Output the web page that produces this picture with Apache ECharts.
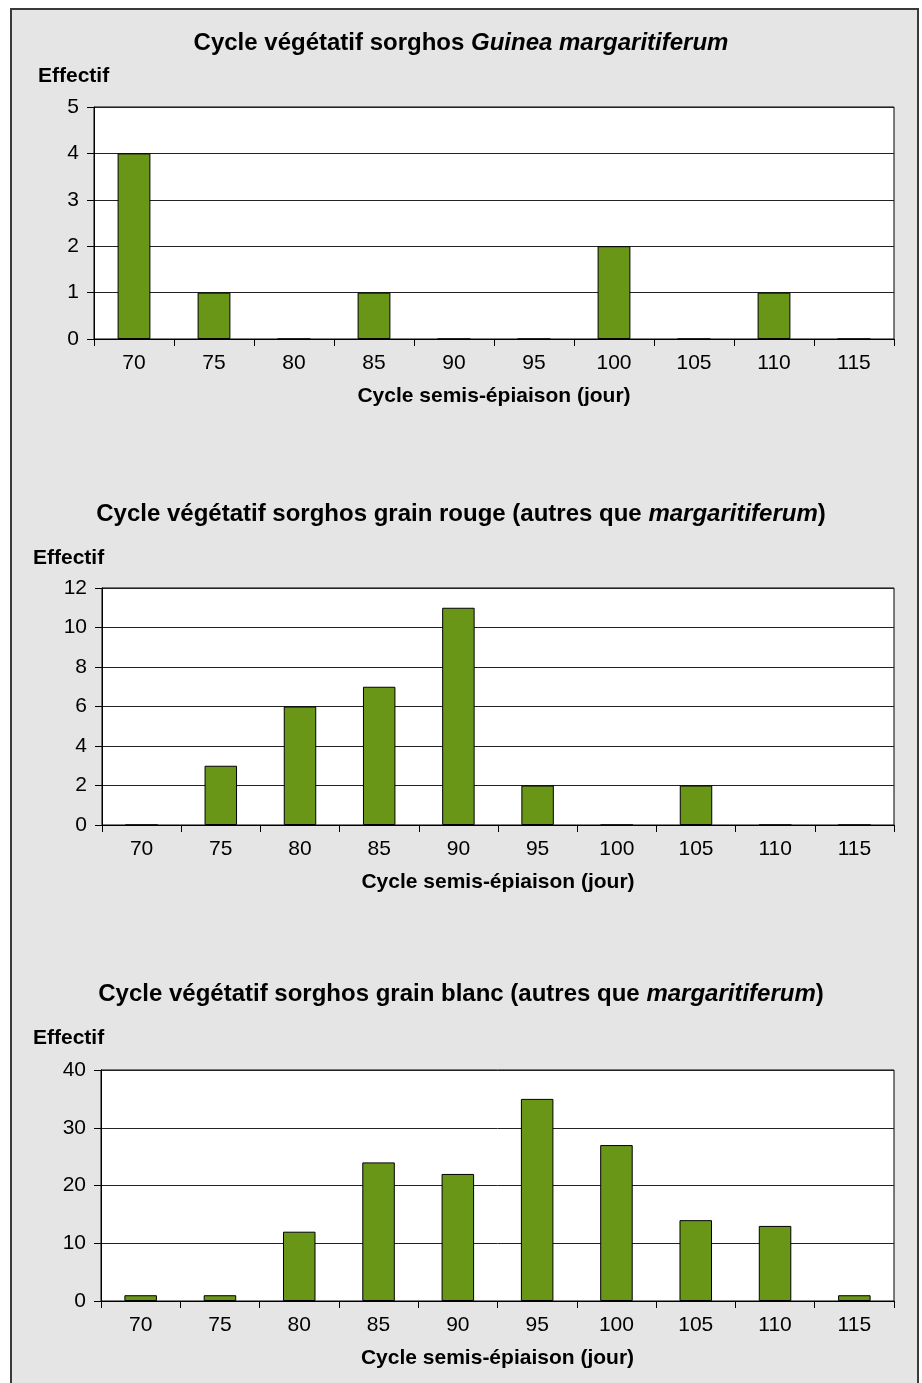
<!DOCTYPE html>
<html>
<head>
<meta charset="utf-8">
<title>Cycle végétatif sorghos</title>
<script src="https://cdn.jsdelivr.net/npm/echarts@6/dist/echarts.min.js"></script>
<style>
  html, body { margin: 0; padding: 0; background: #fff; }
  #frame {
    position: absolute; left: 10px; top: 8px; width: 905px; height: 1400px;
    background: #e5e5e5; border: 2px solid #3a3a3a; border-bottom: none;
  }
  #chart { position: absolute; left: 0; top: 0; width: 922px; height: 1383px; }
</style>
</head>
<body>
<div id="frame"></div>
<div id="chart"></div>
<script>
// catégories (cycle semis-épiaison en jours)
const categories = ['70', '75', '80', '85', '90', '95', '100', '105', '110', '115']

// effectifs par type de sorgho
const guineaMargaritiferum = [4, 1, 0, 1, 0, 0, 2, 0, 1, 0]
const grainRouge = [0, 3, 6, 7, 11, 2, 0, 2, 0, 0]
const grainBlanc = [1, 1, 12, 24, 22, 35, 27, 14, 13, 1]

// graduations des axes y
const yMax = [5, 12, 40]
const yStep = [1, 2, 10]

const FONT = '"Liberation Sans", Arial, Helvetica, sans-serif'
const GREEN = '#6a9618'

// position des trois zones de tracé
const grids = [
  { left: 94, top: 107, width: 800, height: 232 },
  { left: 102, top: 588, width: 792, height: 237 },
  { left: 101, top: 1070, width: 793, height: 231 }
]

const titleRich = {
  b: { fontFamily: FONT, fontWeight: 'bold', fontSize: 24, color: '#000' },
  i: { fontFamily: FONT, fontWeight: 'bold', fontStyle: 'italic', fontSize: 24, color: '#000' }
}
const effectifStyle = { fontFamily: FONT, fontWeight: 'bold', fontSize: 21, color: '#000' }

const chart = echarts.init(document.getElementById('chart'))

const option = {
  backgroundColor: 'transparent',
  animation: false,
  title: [
    { text: '{b|Cycle végétatif sorghos }{i|Guinea margaritiferum}', left: 'center', top: 31, padding: 0,
      textStyle: { rich: titleRich } },
    { text: '{b|Cycle végétatif sorghos grain rouge (autres que }{i|margaritiferum}{b|)}', left: 'center', top: 502, padding: 0,
      textStyle: { rich: titleRich } },
    { text: '{b|Cycle végétatif sorghos grain blanc (autres que }{i|margaritiferum}{b|)}', left: 'center', top: 982, padding: 0,
      textStyle: { rich: titleRich } },
    { text: 'Effectif', left: 38, top: 66, padding: 0, textStyle: effectifStyle },
    { text: 'Effectif', left: 33, top: 548, padding: 0, textStyle: effectifStyle },
    { text: 'Effectif', left: 33, top: 1028, padding: 0, textStyle: effectifStyle }
  ],
  grid: grids.map(g => ({
    ...g,
    show: true,
    backgroundColor: '#fff',
    borderColor: '#000',
    borderWidth: 1,
    containLabel: false
  })),
  xAxis: grids.map((g, i) => ({
    type: 'category',
    gridIndex: i,
    data: categories,
    boundaryGap: true,
    name: 'Cycle semis-épiaison (jour)',
    nameLocation: 'middle',
    nameGap: 47,
    nameTextStyle: { fontFamily: FONT, fontWeight: 'bold', fontSize: 21, color: '#000' },
    axisLine: { lineStyle: { color: '#000', width: 1 } },
    axisTick: { show: true, length: 7, interval: 0, lineStyle: { color: '#000' } },
    axisLabel: { interval: 0, margin: 14, fontFamily: FONT, fontSize: 21, color: '#000' }
  })),
  yAxis: grids.map((g, i) => ({
    type: 'value',
    gridIndex: i,
    min: 0,
    max: yMax[i],
    interval: yStep[i],
    axisLine: { show: true, lineStyle: { color: '#000', width: 1 } },
    axisTick: { show: true, length: 7, lineStyle: { color: '#000' } },
    axisLabel: { margin: 15, fontFamily: FONT, fontSize: 21, color: '#000' },
    splitLine: { show: true, lineStyle: { color: '#222', width: 1 } }
  })),
  series: [guineaMargaritiferum, grainRouge, grainBlanc].map((d, i) => ({
    type: 'bar',
    xAxisIndex: i,
    yAxisIndex: i,
    data: d,
    barWidth: '41%',
    itemStyle: { color: GREEN, borderColor: '#000', borderWidth: 1 }
  }))
}

chart.setOption(option)
</script>
</body>
</html>
